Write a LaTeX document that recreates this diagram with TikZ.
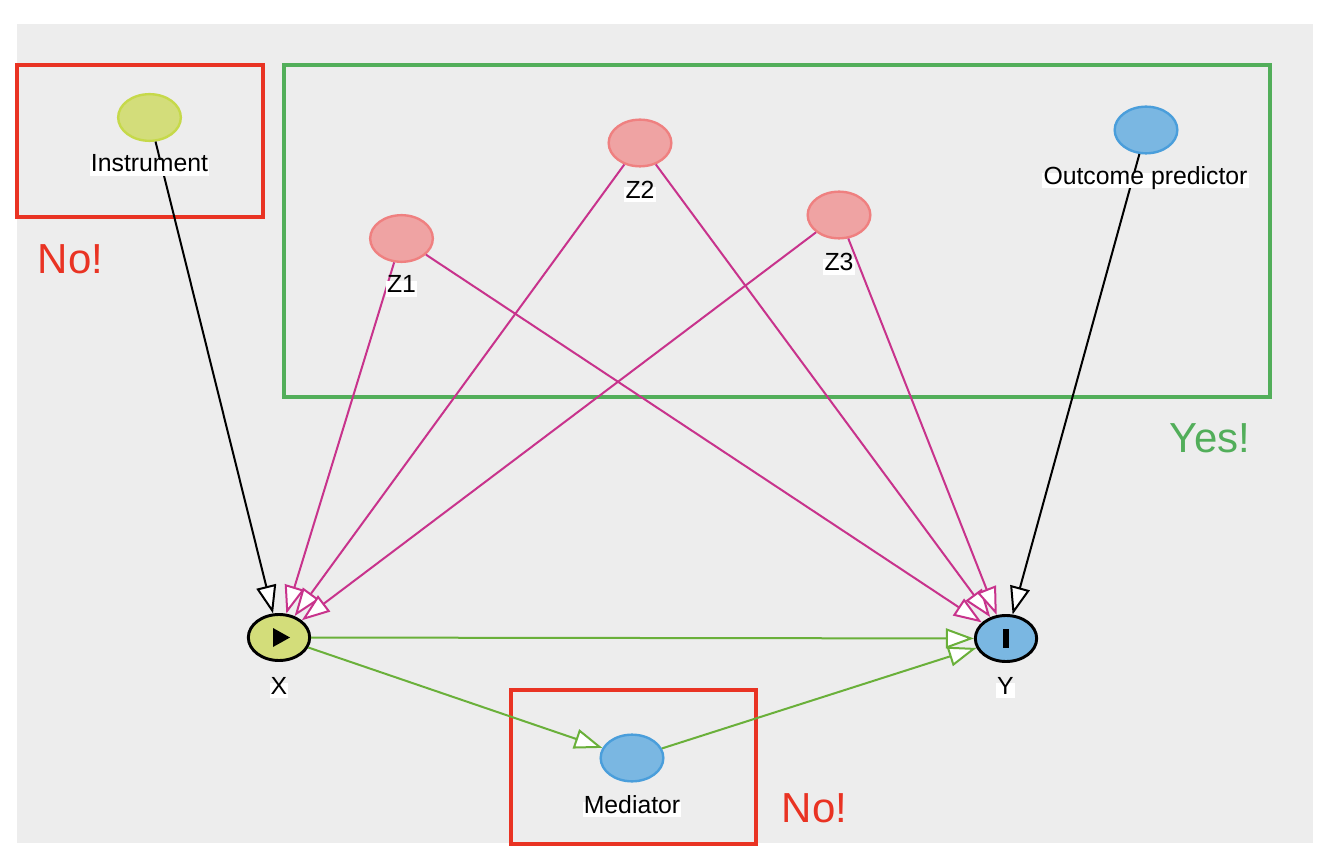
\documentclass[tikz,border=0pt]{standalone}
\usepackage{fontspec}
\setmainfont{Liberation Sans}
\usetikzlibrary{arrows.meta,shapes.geometric}
\definecolor{bgc}{HTML}{EDEDED}
\definecolor{redc}{HTML}{E93323}
\definecolor{greenbox}{HTML}{52AE5A}
\definecolor{magc}{HTML}{C8338C}
\definecolor{greenarr}{HTML}{6AB03A}
\definecolor{pinkfill}{HTML}{EFA3A3}
\definecolor{pinkdraw}{HTML}{EF8080}
\definecolor{bluefill}{HTML}{7AB7E2}
\definecolor{bluedraw}{HTML}{4A9EDB}
\definecolor{ygfill}{HTML}{D3DD7A}
\definecolor{ygdraw}{HTML}{C6D94A}
\tikzset{
  var/.style={ellipse, minimum width=47pt, minimum height=35pt, inner sep=0pt, line width=1.8pt},
  pinkvar/.style={var, fill=pinkfill, draw=pinkdraw},
  bluevar/.style={var, fill=bluefill, draw=bluedraw},
  ygvar/.style={var, fill=ygfill, draw=ygdraw},
  mainvar/.style={ellipse, minimum width=46pt, minimum height=34.5pt, inner sep=0pt, line width=2.2pt, draw=black},
  lbl/.style={fill=white, inner xsep=0.8pt, inner ysep=1pt, text height=0.78em, text depth=0.21em, font=\fontsize{18.6pt}{20pt}\selectfont},
  edgebase/.style={line width=1.5pt, -{Triangle[length=21pt, width=15pt, fill=white]}},
  blk/.style={edgebase, draw=black},
  mag/.style={edgebase, draw=magc},
  grn/.style={edgebase, draw=greenarr},
  framebox/.style={line width=3pt},
  bigtxt/.style={font=\fontsize{31.5pt}{34pt}\selectfont, inner sep=0pt}
}
\begin{document}
\begin{tikzpicture}[x=0.75pt, y=-0.75pt]
\useasboundingbox (0,0) rectangle (1330,862);
\fill[bgc] (17,24) rectangle (1313,843);
% frames
\draw[framebox, redc] (17,65) rectangle (263,217);
\draw[framebox, greenbox] (284,65) rectangle (1270,397);
\draw[framebox, redc] (511,690) rectangle (756,844);
% variables
\node[ygvar] (inst) at (149.5,117.5) {};
\node[pinkvar] (z1) at (401.5,238.5) {};
\node[pinkvar] (z2) at (640,143) {};
\node[pinkvar] (z3) at (839,215) {};
\node[bluevar] (outp) at (1146,130) {};
\node[bluevar] (med) at (632,758) {};
\node[mainvar, fill=ygfill] (x) at (279,637.5) {};
\node[mainvar, fill=bluefill] (y) at (1006,638.5) {};
% markers inside X and Y
\fill[black] (273,628) -- (290,637.5) -- (273,647) -- cycle;
\fill[black] (1003,629) rectangle (1009,648);
% edges
\draw[blk] (inst) -- (x);
\draw[blk] (outp) -- (y);
\draw[mag] (z1) -- (x);
\draw[mag] (z2) -- (x);
\draw[mag] (z3) -- (x);
\draw[mag] (z1) -- (y);
\draw[mag] (z2) -- (y);
\draw[mag] (z3) -- (y);
\draw[grn] (x) -- (y);
\draw[grn] (x) -- (med);
\draw[grn] (med) -- (y);
% labels
\node[lbl] (linst) at (149.5,168) {Instrument};
\node[lbl] (lz1) at (401.5,289) {Z1};
\node[lbl] (lz2) at (640,194.5) {Z2};
\node[lbl] (lz3) at (839,267) {Z3};
\node[lbl] (loutp) at (1145.5,180.5) {Outcome predictor};
\node[lbl] (lmed) at (632,809.5) {Mediator};
\node[lbl] (lx) at (279,690.5) {X};
\node[lbl] (ly) at (1005.5,690.5) {Y};
% verdicts
\node[bigtxt, text=redc] (no1) at (70.5,259) {No!};
\node[bigtxt, text=greenbox] (yes) at (1210,438) {Yes!};
\node[bigtxt, text=redc] (no2) at (814.5,808.5) {No!};
\end{tikzpicture}
\end{document}
